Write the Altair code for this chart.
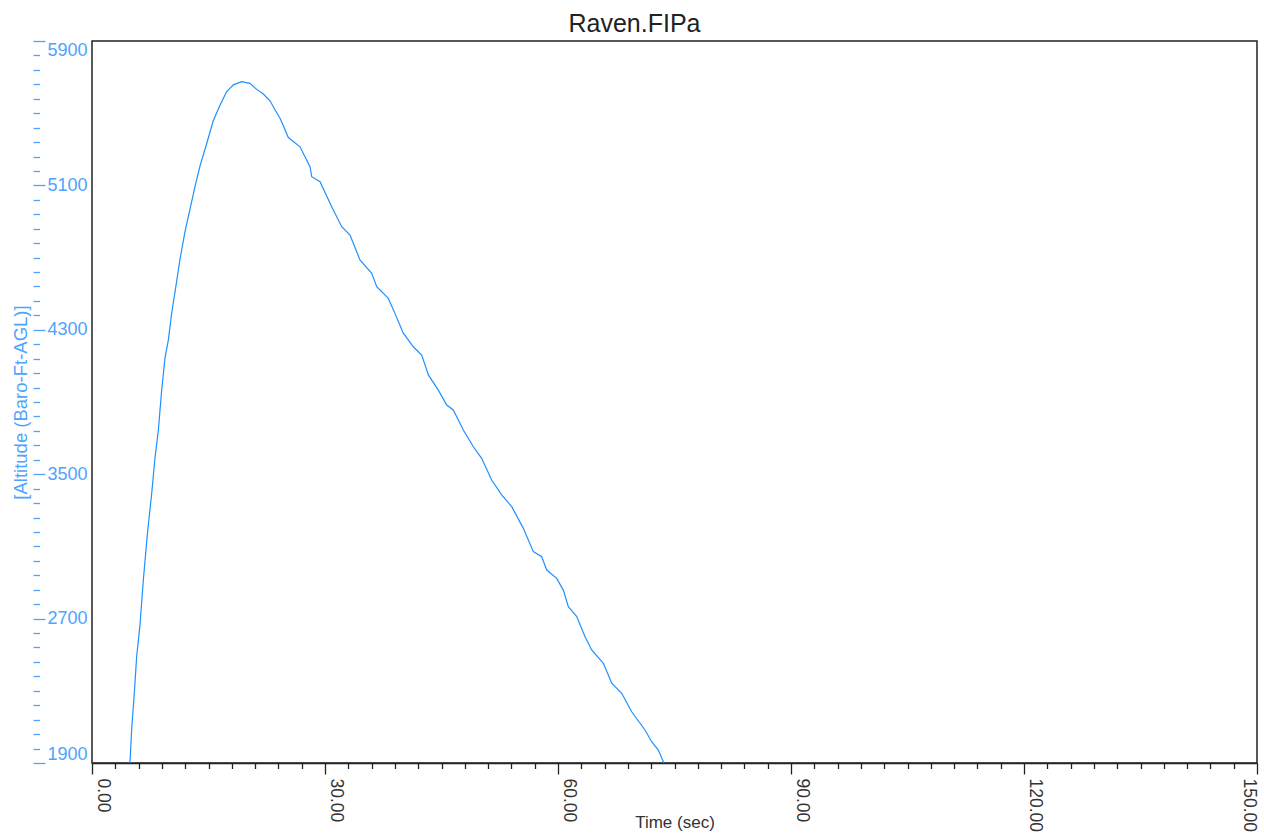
import altair as alt
import pandas as pd

# Flight data (time in seconds, barometric altitude in ft AGL)
time_s = [4.7, 4.89, 5.11, 5.45, 5.75, 6.18, 6.61, 7.12, 7.68, 8.11, 8.54, 8.97, 9.4, 9.83,
          10.26, 10.9, 11.33, 11.97, 12.62, 13.26, 13.9, 14.77, 15.6, 16.48, 17.34, 18.2,
          19.27, 20.34, 21.2, 22.06, 22.92, 23.56, 24.21, 25.28, 26.78, 28.07, 28.29, 29.36,
          30.86, 32.15, 33.22, 34.5, 36.01, 36.66, 38.15, 39.01, 40.08, 41.37, 42.45, 43.31,
          44.59, 45.67, 46.52, 47.81, 49.1, 50.17, 51.46, 52.75, 54.04, 55.54, 56.82, 57.9,
          58.55, 59.83, 60.69, 61.33, 62.41, 63.48, 64.34, 65.84, 66.92, 68.2, 69.49, 71.2,
          72.06, 72.92, 73.65, 74.0]
altitude_ft = [1800, 1900, 2088, 2288, 2489, 2665, 2914, 3165, 3390, 3591, 3742, 3966, 4144, 4243,
               4393, 4568, 4692, 4843, 4969, 5093, 5207, 5332, 5457, 5544, 5620, 5657,
               5675, 5665, 5632, 5606, 5569, 5519, 5472, 5365, 5314, 5204, 5148, 5120,
               4982, 4871, 4825, 4687, 4613, 4539, 4474, 4391, 4281, 4206, 4160, 4050,
               3966, 3883, 3856, 3745, 3652, 3588, 3468, 3385, 3320, 3200, 3071, 3043,
               2969, 2923, 2858, 2766, 2711, 2600, 2526, 2452, 2342, 2286, 2184, 2083,
               2018, 1972, 1898, 1870]

x_domain = [0, 150]
y_domain = [1900, 5900]
x_tick_values = [3 * i for i in range(51)]          # minor every 3 s, labelled every 30 s
y_tick_values = [1900 + 80 * i for i in range(51)]  # minor every 80 ft, labelled every 800 ft

df = pd.DataFrame({"t": time_s, "alt": altitude_ft})

FONT = "Liberation Sans"
LINE_BLUE = "#1e90ff"
AXIS_BLUE = "#4da3ff"
DARK = "#222222"

x_axis = alt.Axis(
    values=x_tick_values,
    labelExpr="datum.value % 30 === 0 ? format(datum.value, '.2f') : ''",
    labelAngle=90,
    labelAlign="left",
    labelBaseline={"condition": {"test": "datum.value >= 150", "value": "top"}, "value": "alphabetic"},
    labelOffset={"condition": {"test": "datum.value >= 150", "value": 0}, "value": 5},
    labelPadding=4,
    labelFont=FONT, labelFontSize=17.5, labelColor="#333333",
    labelFlush=False, labelOverlap=False, labelBound=False,
    tickSize={"condition": {"test": "datum.value % 30 === 0", "value": 11}, "value": 5.5},
    tickColor=DARK, tickWidth=1.3,
    domainColor=DARK, domainWidth=1.5,
    grid=False,
    title="Time (sec)", titleFont=FONT, titleFontSize=17, titleFontWeight="normal",
    titleColor="#333333", titleY=59, titleBaseline="middle",
)

y_axis = alt.Axis(
    orient="right", offset=-1224,
    values=y_tick_values,
    labelExpr="(datum.value - 1900) % 800 === 0 ? format(datum.value, 'd') : ''",
    labelFont=FONT, labelFontSize=18, labelColor=AXIS_BLUE,
    labelPadding=2, labelFlush=True, labelOverlap=False, labelBound=False,
    tickSize={"condition": {"test": "(datum.value - 1900) % 800 === 0", "value": 12}, "value": 6.5},
    tickColor=AXIS_BLUE, tickWidth=1.3,
    domain=False, grid=False,
    title="[Altitude (Baro-Ft-AGL)]", titleFont=FONT, titleFontSize=18.5,
    titleFontWeight="normal", titleColor=AXIS_BLUE,
    titleAngle=-90, titleX=-13, titleY=361, titleAlign="center", titleBaseline="middle",
)

chart = (
    alt.Chart(df)
    .mark_line(color=LINE_BLUE, strokeWidth=1.2, clip=True)
    .encode(
        x=alt.X("t:Q", scale=alt.Scale(domain=x_domain, nice=False, zero=False), axis=x_axis),
        y=alt.Y("alt:Q", scale=alt.Scale(domain=y_domain, nice=False, zero=False), axis=y_axis),
    )
    .properties(
        width=1165,
        height=722,
        title=alt.TitleParams(
            text="Raven.FIPa", font=FONT, fontSize=25, fontWeight="normal", color=DARK,
            anchor="middle", dx=-40, dy=26, offset=9, baseline="alphabetic",
        ),
        autosize=alt.AutoSizeParams(type="none"),
        padding={"left": 92, "top": 41, "right": 7, "bottom": 76},
    )
    .configure(background="white")
    .configure_view(stroke=DARK, strokeWidth=1.5)
)

chart.save("out.html", embed_options={"renderer": "svg", "actions": False})
